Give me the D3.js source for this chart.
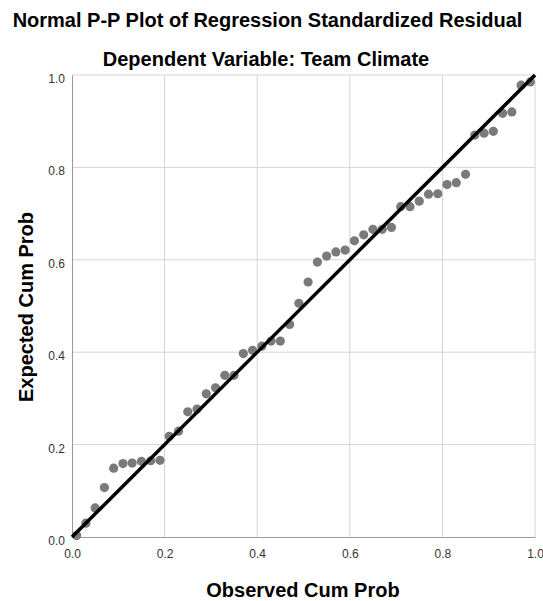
<!DOCTYPE html>
<html>
<head>
<meta charset="utf-8">
<script src="https://cdn.jsdelivr.net/npm/d3@7"></script>
<style>
  body { margin: 0; background: #fff; }
  text { font-family: "Liberation Sans", Arial, sans-serif; }
  .tick text { font-size: 12px; fill: #333; }
</style>
</head>
<body>
<div id="chart"></div>
<script>
// observed vs expected cumulative probabilities
var observed = [0.01, 0.03, 0.05, 0.07, 0.09, 0.11, 0.13, 0.15, 0.17, 0.19,
    0.21, 0.23, 0.25, 0.27, 0.29, 0.31, 0.33, 0.35, 0.37, 0.39,
    0.41, 0.43, 0.45, 0.47, 0.49, 0.51, 0.53, 0.55, 0.57, 0.59,
    0.61, 0.63, 0.65, 0.67, 0.69, 0.71, 0.73, 0.75, 0.77, 0.79,
    0.81, 0.83, 0.85, 0.87, 0.89, 0.91, 0.93, 0.95, 0.97, 0.99];
var expected = [0.003, 0.030, 0.063, 0.107, 0.149, 0.159, 0.160, 0.164, 0.165, 0.166,
    0.218, 0.229, 0.271, 0.277, 0.310, 0.323, 0.350, 0.350, 0.397, 0.404,
    0.413, 0.424, 0.424, 0.460, 0.506, 0.552, 0.595, 0.608, 0.617, 0.621,
    0.641, 0.654, 0.666, 0.666, 0.670, 0.715, 0.715, 0.727, 0.742, 0.743,
    0.763, 0.767, 0.785, 0.870, 0.874, 0.878, 0.917, 0.920, 0.978, 0.985];
var tickValues = [0, 0.2, 0.4, 0.6, 0.8, 1.0];

var width = 543;
var height = 601;
var margin = {top: 75, right: 8, bottom: 64, left: 72};
var w = width - margin.left - margin.right;
var h = height - margin.top - margin.bottom;

var svg = d3.select("#chart")
    .append("svg")
    .attr("width", width)
    .attr("height", height);

svg.append("text")
    .attr("x", 267.5)
    .attr("y", 27)
    .attr("text-anchor", "middle")
    .style("font-size", "20px")
    .style("font-weight", "bold")
    .text("Normal P-P Plot of Regression Standardized Residual");

svg.append("text")
    .attr("x", 266)
    .attr("y", 66)
    .attr("text-anchor", "middle")
    .style("font-size", "20px")
    .style("font-weight", "bold")
    .text("Dependent Variable: Team Climate");

var g = svg.append("g")
    .attr("transform", "translate(" + margin.left + "," + margin.top + ")");

var x = d3.scaleLinear().domain([0, 1]).range([0, w]);
var y = d3.scaleLinear().domain([0, 1]).range([h, 0]);

// grid + frame
g.append("g")
    .selectAll("line")
    .data(tickValues.slice(1))
    .enter().append("line")
    .attr("x1", function (d) { return x(d); })
    .attr("x2", function (d) { return x(d); })
    .attr("y1", 0)
    .attr("y2", h)
    .attr("stroke", "#d4d4d4");
g.append("g")
    .selectAll("line")
    .data(tickValues.slice(1))
    .enter().append("line")
    .attr("x1", 0)
    .attr("x2", w)
    .attr("y1", function (d) { return y(d); })
    .attr("y2", function (d) { return y(d); })
    .attr("stroke", "#d4d4d4");

var xAxis = d3.axisBottom(x)
    .tickValues(tickValues)
    .tickFormat(d3.format(".1f"))
    .tickSize(0)
    .tickPadding(12);
var yAxis = d3.axisLeft(y)
    .tickValues(tickValues)
    .tickFormat(d3.format(".1f"))
    .tickSize(0)
    .tickPadding(7);

var gx = g.append("g")
    .attr("transform", "translate(0," + h + ")")
    .call(xAxis);
var gy = g.append("g").call(yAxis);
[gx, gy].forEach(function (a) {
    a.select(".domain").attr("stroke", "#999");
});
gy.selectAll(".tick text").attr("dy", "0.62em");

g.selectAll("circle")
    .data(observed)
    .enter().append("circle")
    .attr("cx", function (d) { return x(d); })
    .attr("cy", function (d, i) { return y(expected[i]); })
    .attr("r", 4.6)
    .attr("fill", "#7a7a7a");

// diagonal reference line, on top of the points
g.append("line")
    .attr("x1", x(0))
    .attr("y1", y(0))
    .attr("x2", x(1))
    .attr("y2", y(1))
    .attr("stroke", "#000")
    .attr("stroke-width", 3.5);

svg.append("text")
    .attr("x", 303)
    .attr("y", 597)
    .attr("text-anchor", "middle")
    .style("font-size", "20px")
    .style("font-weight", "bold")
    .text("Observed Cum Prob");

svg.append("text")
    .attr("transform", "translate(33,307) rotate(-90)")
    .attr("text-anchor", "middle")
    .style("font-size", "20px")
    .style("font-weight", "bold")
    .text("Expected Cum Prob");
</script>
</body>
</html>
